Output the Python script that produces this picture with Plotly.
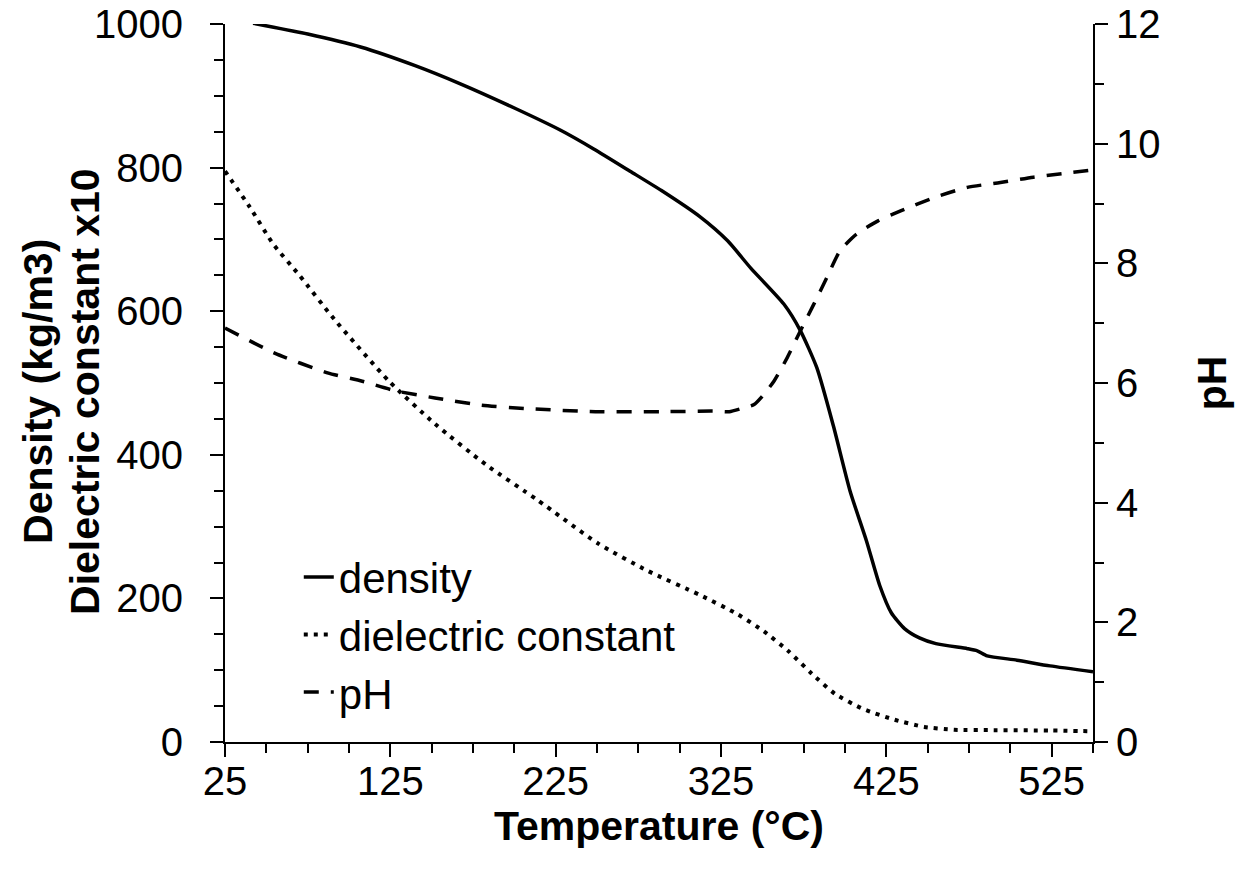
import plotly.graph_objects as go

# ---- data ----
dens_T = [42, 75, 107, 140, 167, 200, 228, 248, 270, 289, 312, 329, 343, 363,
          373, 383, 393, 403, 413, 421, 428, 436, 445, 455, 474, 480, 486, 504, 524, 550]
density = [1001, 986, 968, 942, 917, 883, 852, 826, 795, 768, 732, 698, 660, 610,
           573, 521, 440, 350, 280, 218, 180, 158, 145, 137, 130, 127, 120, 114, 106, 98]

diel_T = [25, 40, 54, 70, 91, 124, 152, 183, 214, 251, 281, 312, 335, 351, 366,
          380, 394, 411, 430, 448, 466, 490, 524, 550]
dielectric_x10 = [795, 745, 694, 650, 589, 503, 443, 386, 337, 276, 238, 205, 178, 154, 126,
                  95, 67, 46, 31, 21, 17, 16.5, 16, 15]

ph_T = [25, 55, 87, 108, 128, 152, 180, 209, 249, 289, 320, 330, 337, 345, 350, 357,
        365, 373, 381, 389, 397, 407, 420, 434, 454, 474, 494, 514, 550]
ph = [6.92, 6.5, 6.17, 6.03, 5.87, 5.75, 5.63, 5.57, 5.52, 5.52, 5.53, 5.52, 5.57, 5.64,
      5.78, 6.03, 6.42, 6.87, 7.31, 7.76, 8.21, 8.49, 8.71, 8.88, 9.10, 9.27, 9.35, 9.44, 9.56]

names = ["density", "dielectric constant", "pH"]
x_ticks = [25, 125, 225, 325, 425, 525]

FONT = "Arial, Liberation Sans, sans-serif"

fig = go.Figure()
fig.add_trace(go.Scatter(x=dens_T, y=density, mode="lines", name=names[0],
                         line=dict(color="black", width=3.5, shape="spline", smoothing=0.6)))
fig.add_trace(go.Scatter(x=diel_T, y=dielectric_x10, mode="lines", name=names[1],
                         line=dict(color="black", width=4, dash="4px,6px", shape="spline", smoothing=0.6)))
fig.add_trace(go.Scatter(x=ph_T, y=ph, mode="lines", name=names[2], yaxis="y2",
                         line=dict(color="black", width=3.5, dash="15px,12px", shape="spline", smoothing=0.6)))

axis_common = dict(showgrid=False, zeroline=False, showline=True, linecolor="black", linewidth=2,
                   ticks="outside", ticklen=13, tickwidth=2, tickcolor="black", automargin=False,
                   tickfont=dict(family=FONT, size=40, color="black"))
minor_common = dict(ticks="outside", ticklen=9, tickwidth=2, tickcolor="black")

fig.update_layout(
    width=1237, height=873,
    margin=dict(l=225, r=144, t=24, b=131, autoexpand=False),
    plot_bgcolor="white", paper_bgcolor="white",
    font=dict(family=FONT, color="black"),
    showlegend=True,
    legend=dict(x=0.085, y=0.277, xanchor="left", yanchor="top",
                font=dict(family=FONT, size=42, color="black"),
                bgcolor="rgba(0,0,0,0)", tracegroupgap=0),
    xaxis=dict(range=[25, 550], tickvals=x_ticks, ticklabelstandoff=-10, **axis_common,
               minor=dict(dtick=25, tick0=25, **minor_common),
               title=dict(text="<b>Temperature (°C)</b>", font=dict(family=FONT, size=41, color="black"),
                          standoff=8)),
    yaxis=dict(range=[0, 1000], dtick=200, tick0=0, ticklabelstandoff=19, **axis_common,
               minor=dict(dtick=50, tick0=0, **minor_common)),
    yaxis2=dict(range=[0, 12], dtick=2, tick0=0, overlaying="y", side="right", **axis_common,
                minor=dict(dtick=1, tick0=0, **minor_common),
                title=dict(text="<b>pH</b>", font=dict(family=FONT, size=41, color="black"), standoff=38)),
    annotations=[
        dict(text="<b>Density (kg/m3)</b>", textangle=-90, xref="paper", yref="paper",
             x=0, y=0.4875, xanchor="center", yanchor="middle", xshift=-187, showarrow=False,
             font=dict(family=FONT, size=41, color="black")),
        dict(text="<b>Dielectric constant x10</b>", textangle=-90, xref="paper", yref="paper",
             x=0, y=0.4875, xanchor="center", yanchor="middle", xshift=-140, showarrow=False,
             font=dict(family=FONT, size=41, color="black")),
    ],
)

fig.write_html("out.html")
